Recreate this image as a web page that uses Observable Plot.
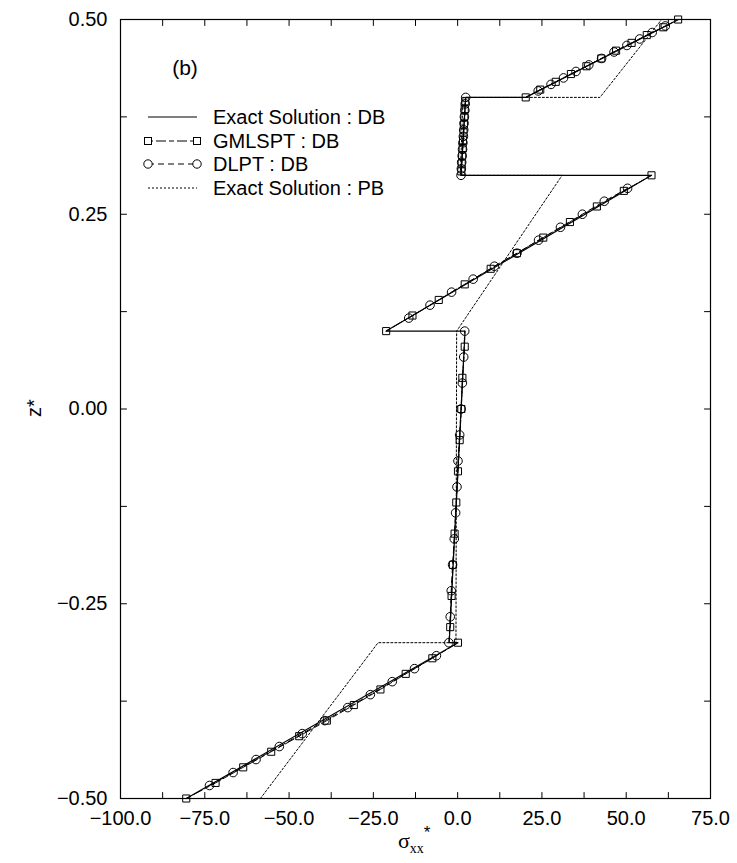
<!DOCTYPE html>
<html><head><meta charset="utf-8">
<script src="https://cdn.jsdelivr.net/npm/d3@7"></script>
<script src="https://cdn.jsdelivr.net/npm/@observablehq/plot@0.6"></script>
<style>
body{margin:0;background:#fff;}
#chart{width:737px;height:863px;}
</style>
</head><body><div id="chart"></div>
<script>
// ---- axis ticks ----
const xTicks = [-100, -75, -50, -25, 0, 25, 50, 75];
const xMinor = [-87.5, -62.5, -37.5, -12.5, 12.5, 37.5, 62.5];
const yTicks = [-0.5, -0.25, 0, 0.25, 0.5];
const yMinor = [-0.375, -0.125, 0.125, 0.375];

// ---- Exact Solution : DB (solid) ----
const exactDB_x = [-80.5, 0.1, -2.5, 2.2, -21.2, 57.5, 1.0, 2.4, 20.2, 65.5];
const exactDB_z = [-0.5, -0.3, -0.3, 0.1, 0.1, 0.3, 0.3, 0.4, 0.4, 0.5];

// ---- Exact Solution : PB (dotted) ----
const exactPB_x = [-58.5, -23.6, -0.5, -0.3, 31.0, 0.8, 1.6, 42.2, 60.5];
const exactPB_z = [-0.5, -0.3, -0.3, 0.1, 0.3, 0.3, 0.4, 0.4, 0.5];

// ---- GMLSPT : DB (squares) ----
const gml_layer = [1,1,1,1,1,1,1,1,1,1,1, 2,2,2,2,2,2,2,2,2,2, 3,3,3,3,3,3,3,3,3,3,3, 4,4,4,4,4,4,4,4,4,4, 5,5,5,5,5,5,5,5,5,5,5];
const gml_z = [-0.5, -0.48, -0.46, -0.44, -0.42, -0.40, -0.38, -0.36, -0.34, -0.32, -0.30,
  -0.28, -0.24, -0.20, -0.16, -0.12, -0.08, -0.04, 0.00, 0.04, 0.08,
  0.10, 0.12, 0.14, 0.16, 0.18, 0.20, 0.22, 0.24, 0.26, 0.28, 0.30,
  0.305, 0.315, 0.325, 0.335, 0.345, 0.355, 0.365, 0.375, 0.385, 0.395,
  0.40, 0.41, 0.42, 0.43, 0.44, 0.45, 0.46, 0.47, 0.48, 0.49, 0.50];
const gml_x = [-80.5, -71.8, -63.6, -55.3, -47.0, -38.8, -30.8, -22.9, -15.4, -7.5, 0.1,
  -2.2, -1.8, -1.4, -0.9, -0.4, 0.1, 0.6, 1.1, 1.4, 2.1,
  -21.2, -13.4, -5.6, 2.1, 9.8, 17.6, 25.4, 33.3, 41.3, 49.3, 57.5,
  1.1, 1.2, 1.35, 1.5, 1.6, 1.75, 1.85, 2.0, 2.1, 2.25,
  20.2, 24.5, 29.1, 33.6, 38.2, 42.6, 47.0, 51.6, 56.1, 61.0, 65.4];

// ---- DLPT : DB (circles) ----
const dlpt_layer = [1,1,1,1,1,1,1,1,1,1,1, 2,2,2,2,2,2,2,2,2,2,2,2,2, 3,3,3,3,3,3,3,3,3,3,3, 4,4,4,4,4,4,4,4,4,4,4,4,4, 5,5,5,5,5,5,5,5,5,5,5];
const dlpt_z = [-0.4833, -0.4667, -0.45, -0.4333, -0.4167, -0.40, -0.3833, -0.3667, -0.35, -0.3333, -0.3167,
  -0.30, -0.2667, -0.2333, -0.20, -0.1667, -0.1333, -0.10, -0.0667, -0.0333, 0.00, 0.0333, 0.0667, 0.10,
  0.1167, 0.1333, 0.15, 0.1667, 0.1833, 0.20, 0.2167, 0.2333, 0.25, 0.2667, 0.2833,
  0.30, 0.3083, 0.3167, 0.325, 0.3333, 0.3417, 0.35, 0.3583, 0.3667, 0.375, 0.3833, 0.3917, 0.40,
  0.4083, 0.4167, 0.425, 0.4333, 0.4417, 0.45, 0.4583, 0.4667, 0.475, 0.4833, 0.4917];
const dlpt_x = [-73.6, -66.6, -59.8, -52.9, -46.1, -39.4, -32.6, -25.9, -19.4, -12.8, -6.3,
  -2.6, -2.2, -1.9, -1.5, -1.0, -0.6, -0.2, 0.1, 0.6, 1.0, 1.4, 1.8, 2.1,
  -14.5, -8.2, -1.8, 4.6, 10.9, 17.6, 24.0, 30.5, 37.0, 43.5, 50.4,
  1.0, 1.1, 1.2, 1.35, 1.45, 1.55, 1.7, 1.8, 1.9, 2.0, 2.15, 2.25, 2.4,
  23.9, 27.7, 31.4, 35.1, 38.9, 42.7, 46.4, 50.2, 54.0, 57.7, 61.6];

// ---- legend labels ----
const legendLabels = ["Exact Solution : DB", "GMLSPT : DB", "DLPT : DB", "Exact Solution : PB"];
const panelLabel = "(b)";

// ---- tables ----
const dbData = exactDB_x.map((x, i) => ({x, z: exactDB_z[i]}));
const pbData = exactPB_x.map((x, i) => ({x, z: exactPB_z[i]}));
const gmlData = gml_x.map((x, i) => ({x, z: gml_z[i], layer: gml_layer[i]}));
const dlptData = dlpt_x.map((x, i) => ({x, z: dlpt_z[i], layer: dlpt_layer[i]}));

const xDomain = [-100, 75], yDomain = [-0.5, 0.5];
const allX = xTicks.concat(xMinor), allY = yTicks.concat(yMinor);
const tickShape = {draw(context, l) { context.moveTo(0, 0); context.lineTo(0, -l); }};
const FONT = "'Liberation Sans', Arial, Helvetica, sans-serif";

const chart = Plot.plot({
  width: 737, height: 863,
  marginLeft: 120, marginRight: 27, marginTop: 19, marginBottom: 65,
  style: {fontFamily: FONT, fontSize: "20px", background: "#fff", color: "#000"},
  x: {domain: xDomain},
  y: {domain: yDomain},
  marks: [
    Plot.line(pbData, {x: "x", y: "z", stroke: "#000", strokeWidth: 1, strokeDasharray: "2,2"}),
    Plot.line(dbData, {x: "x", y: "z", stroke: "#000", strokeWidth: 1.2}),
    Plot.line(gmlData, {x: "x", y: "z", z: "layer", stroke: "#000", strokeWidth: 1, strokeDasharray: "5,3,10,3"}),
    Plot.line(dlptData, {x: "x", y: "z", z: "layer", stroke: "#000", strokeWidth: 1, strokeDasharray: "6,4"}),
    Plot.dot(gmlData, {x: "x", y: "z", symbol: "square", r: 4, stroke: "#000", strokeWidth: 1, fill: "none"}),
    Plot.dot(dlptData, {x: "x", y: "z", symbol: "circle", r: 4.3, stroke: "#000", strokeWidth: 1, fill: "none"}),
    Plot.frame({stroke: "#000", strokeWidth: 1.2}),
    // inward ticks on four sides
    Plot.vector(allX, {x: d => d, y: () => yDomain[0], length: 6, rotate: 0, anchor: "start", shape: tickShape, stroke: "#000", strokeWidth: 1}),
    Plot.vector(allX, {x: d => d, y: () => yDomain[1], length: 6, rotate: 180, anchor: "start", shape: tickShape, stroke: "#000", strokeWidth: 1}),
    Plot.vector(allY, {x: () => xDomain[0], y: d => d, length: 6, rotate: 90, anchor: "start", shape: tickShape, stroke: "#000", strokeWidth: 1}),
    Plot.vector(allY, {x: () => xDomain[1], y: d => d, length: 6, rotate: 270, anchor: "start", shape: tickShape, stroke: "#000", strokeWidth: 1}),
    Plot.axisX(xTicks, {anchor: "bottom", tickSize: 0, tickPadding: 12, tickFormat: d3.format(".1f"), fontSize: 20, label: null}),
    Plot.axisY(yTicks, {anchor: "left", tickSize: 0, tickPadding: 13, tickFormat: d3.format(".2f"), fontSize: 20, label: null})
  ]
});
document.getElementById("chart").appendChild(chart);

// ---- legend, panel label and axis titles as SVG text ----
const svg = d3.select(chart);
const g = svg.append("g").attr("font-family", FONT).attr("fill", "#000").attr("text-anchor", "start");
g.append("text").attr("x", 185).attr("y", 67).attr("text-anchor", "middle").attr("dominant-baseline", "central")
  .attr("font-size", 21).text(panelLabel);

const rowsY = [117, 141, 164, 188];
const sx0 = 148, sx1 = 197, tx = 213;
const styles = [
  {dash: null, sym: null},
  {dash: "5,3,10,3", sym: "square"},
  {dash: "6,4", sym: "circle"},
  {dash: "2,2", sym: null}
];
legendLabels.forEach((lab, i) => {
  const y = rowsY[i], st = styles[i];
  g.append("line").attr("x1", sx0).attr("x2", sx1).attr("y1", y).attr("y2", y)
    .attr("stroke", "#000").attr("stroke-width", i === 0 ? 1.2 : 1)
    .attr("stroke-dasharray", st.dash);
  [sx0, sx1].forEach(cx => {
    if (st.sym === "square") g.append("rect").attr("x", cx - 3.5).attr("y", y - 3.5).attr("width", 7).attr("height", 7)
      .attr("fill", "#fff").attr("stroke", "#000");
    if (st.sym === "circle") g.append("circle").attr("cx", cx).attr("cy", y).attr("r", 4.2)
      .attr("fill", "#fff").attr("stroke", "#000");
  });
  g.append("text").attr("x", tx).attr("y", y).attr("text-anchor", "start").attr("dominant-baseline", "central")
    .attr("font-size", 20).text(lab);
});

// y axis title z*
g.append("text").attr("transform", "translate(34,408) rotate(-90)").attr("text-anchor", "middle")
  .attr("dominant-baseline", "central").attr("font-size", 20).text("z*");

// x axis title sigma_xx*
const xt = g.append("text").attr("x", 398).attr("y", 848).attr("text-anchor", "start")
  .attr("font-family", "'Liberation Serif', 'Times New Roman', serif").attr("font-size", 22);
xt.append("tspan").text("σ");
xt.append("tspan").attr("font-size", 14).attr("dy", 5).text("xx");
xt.append("tspan").attr("font-size", 17).attr("dy", -15).attr("font-family", FONT).text("*");
</script>
</body></html>
